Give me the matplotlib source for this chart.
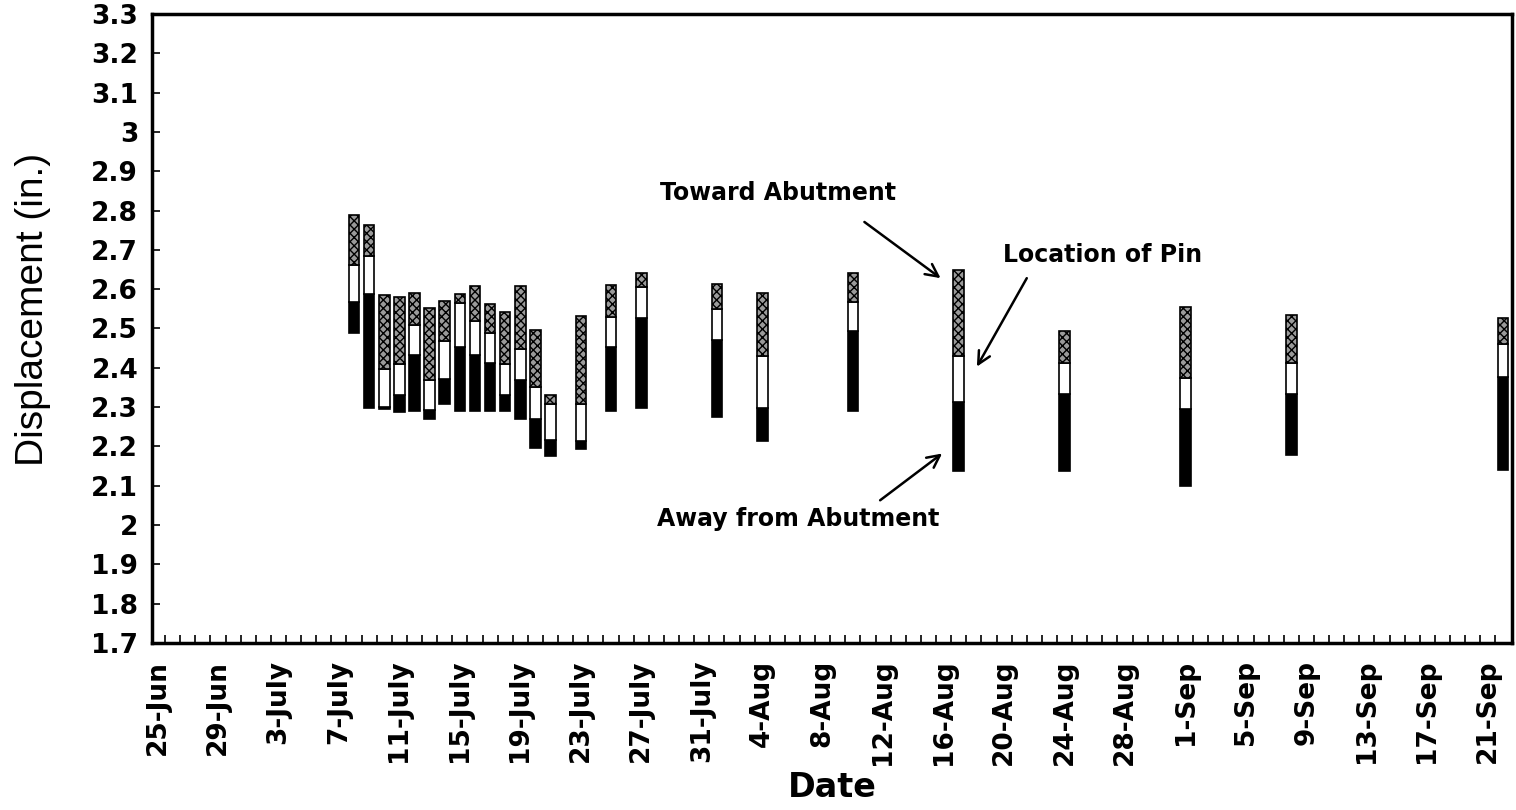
import matplotlib
matplotlib.use('Agg')
import matplotlib.pyplot as plt
import datetime as dt

# ---- data ----
dates = ['8-Jul', '9-Jul', '10-Jul', '11-Jul', '12-Jul', '13-Jul', '14-Jul',
         '15-Jul', '16-Jul', '17-Jul', '18-Jul', '19-Jul', '20-Jul', '21-Jul',
         '23-Jul', '25-Jul', '27-Jul', '1-Aug', '4-Aug', '10-Aug', '17-Aug',
         '24-Aug', '1-Sep', '8-Sep', '22-Sep']
away_low = [2.489, 2.297, 2.295, 2.288, 2.291, 2.269, 2.309, 2.291, 2.291,
            2.291, 2.291, 2.271, 2.195, 2.175, 2.193, 2.291, 2.297, 2.274,
            2.214, 2.291, 2.138, 2.138, 2.099, 2.178, 2.140]
pin_low = [2.568, 2.588, 2.300, 2.330, 2.432, 2.292, 2.371, 2.453, 2.432,
           2.413, 2.330, 2.370, 2.271, 2.216, 2.214, 2.453, 2.526, 2.472,
           2.299, 2.493, 2.313, 2.333, 2.294, 2.333, 2.376]
pin_high = [2.661, 2.684, 2.396, 2.409, 2.509, 2.369, 2.469, 2.566, 2.520,
            2.489, 2.409, 2.449, 2.350, 2.309, 2.308, 2.528, 2.606, 2.549,
            2.430, 2.568, 2.430, 2.411, 2.373, 2.413, 2.460]
toward_high = [2.789, 2.763, 2.585, 2.579, 2.591, 2.551, 2.570, 2.589, 2.608,
               2.562, 2.543, 2.608, 2.496, 2.332, 2.532, 2.610, 2.642, 2.613,
               2.591, 2.642, 2.650, 2.493, 2.554, 2.534, 2.526]
tick_labels = ['25-Jun', '29-Jun', '3-July', '7-July', '11-July', '15-July',
               '19-July', '23-July', '27-July', '31-July', '4-Aug', '8-Aug',
               '12-Aug', '16-Aug', '20-Aug', '24-Aug', '28-Aug', '1-Sep',
               '5-Sep', '9-Sep', '13-Sep', '17-Sep', '21-Sep']
y_ticks = [1.7, 1.8, 1.9, 2.0, 2.1, 2.2, 2.3, 2.4, 2.5, 2.6, 2.7, 2.8, 2.9,
           3.0, 3.1, 3.2, 3.3]

# ---- convert dates to day numbers from 25-Jun ----
base = dt.datetime(2000, 6, 25)
def day_of(s):
    d = dt.datetime.strptime(s + '-2000', '%d-%b-%Y')
    return (d - base).days

x = [day_of(s) for s in dates]
tick_pos = list(range(0, 4 * len(tick_labels), 4))

plt.rcParams['font.family'] = ['DejaVu Sans']
plt.rcParams['hatch.linewidth'] = 1.0

fig = plt.figure(figsize=(15.16, 8.10), dpi=100)
ax = fig.add_axes([0.1003, 0.2062, 0.8971, 0.7765])

w = 0.7
black_h = [p - a for p, a in zip(pin_low, away_low)]
white_h = [h - p for h, p in zip(pin_high, pin_low)]
hatch_h = [t - h for t, h in zip(toward_high, pin_high)]

ax.bar(x, black_h, bottom=away_low, width=w, color='black',
       edgecolor='black', linewidth=1.2, zorder=3)
ax.bar(x, white_h, bottom=pin_low, width=w, color='white',
       edgecolor='black', linewidth=1.2, zorder=3)
ax.bar(x, hatch_h, bottom=pin_high, width=w, color='#9a9a9a',
       edgecolor='black', hatch='xxxx', linewidth=1.2, zorder=3)

ax.set_xlim(-0.36, 89.6)
ax.set_ylim(1.7, 3.3)
ax.set_yticks(y_ticks)
ax.set_yticklabels(['%g' % v for v in y_ticks])
ax.set_xticks(tick_pos)
ax.set_xticklabels(tick_labels, rotation=90)
ax.set_xticks([d + 0.5 for d in range(0, 89)], minor=True)

ax.tick_params(axis='y', direction='in', length=6, width=1.2, labelsize=19,
               pad=10)
ax.tick_params(axis='x', which='major', direction='in', length=0,
               labelsize=19, pad=12)
ax.tick_params(axis='x', which='minor', direction='in', length=6, width=1.2)
for lab in ax.get_xticklabels() + ax.get_yticklabels():
    lab.set_fontweight('bold')

for sp in ax.spines.values():
    sp.set_linewidth(2.5)

ax.set_ylabel('Displacement (in.)', fontsize=28, fontfamily='Liberation Sans')
ax.yaxis.set_label_coords(-0.074, 0.53)
ax.set_xlabel('Date', fontsize=24, fontweight='bold', labelpad=4)

arrow = dict(arrowstyle='->,head_length=0.9,head_width=0.45', color='black',
             lw=1.8, shrinkA=0, shrinkB=0)
ann_font = dict(fontsize=17, fontweight='bold', va='center', ha='left')
ax.text(33.26, 2.845, 'Toward Abutment', **ann_font)
ax.annotate('', xy=(51.8, 2.628), xytext=(46.76, 2.771), arrowprops=arrow)
ax.text(55.96, 2.687, 'Location of Pin', **ann_font)
ax.annotate('', xy=(54.2, 2.403), xytext=(57.5, 2.628), arrowprops=arrow)
ax.text(33.06, 2.015, 'Away from Abutment', **ann_font)
ax.annotate('', xy=(51.9, 2.182), xytext=(47.8, 2.063), arrowprops=arrow)

fig.savefig('out.png', dpi=100)
